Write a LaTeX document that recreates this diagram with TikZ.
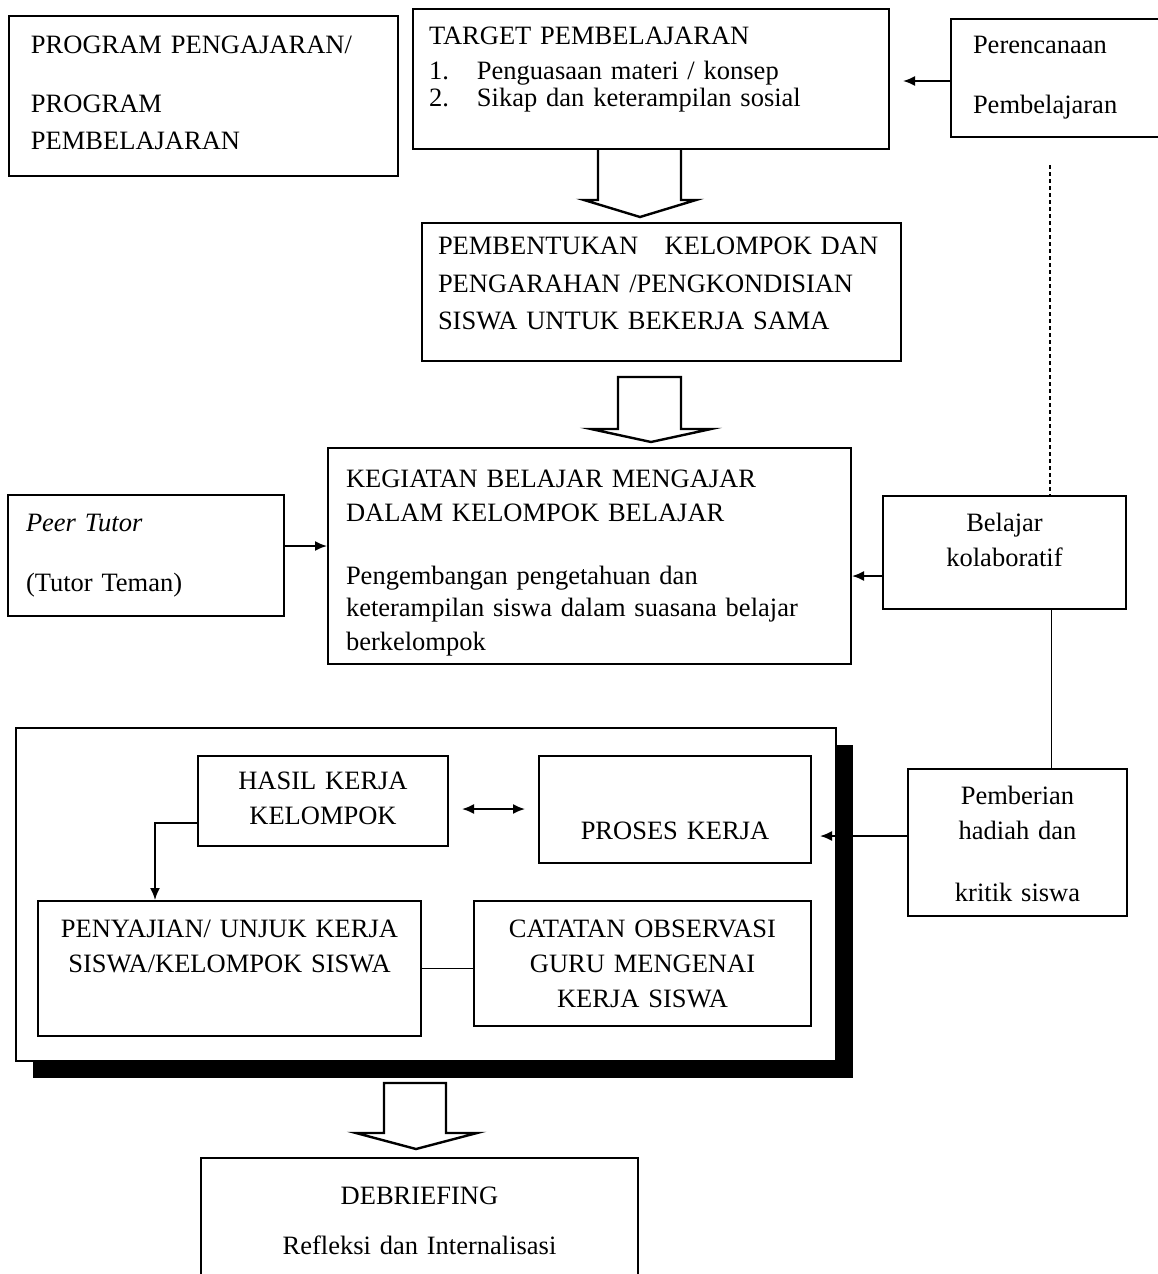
\documentclass[tikz,border=0pt]{standalone}
\usepackage{fontspec}
\setmainfont{Liberation Serif}
\usepackage{tikz}
\usetikzlibrary{positioning,arrows.meta,calc,shadows}

\begin{document}
\begin{tikzpicture}[
  x=0.5pt,y=-0.5pt,
  bx/.style={draw,line width=1pt,anchor=north west,inner ysep=0pt,align=left,
             font=\fontsize{13.25}{17}\selectfont},
  cbx/.style={bx,align=center,inner xsep=0pt},
  a/.style={-{Latex[length=6pt,width=5pt]},line width=0.9pt},
  fat/.style={line width=1.2pt,fill=white,line join=miter},
  dots/.style={line width=0.8pt,dash pattern=on 2pt off 1.5pt}]
\useasboundingbox (0,0) rectangle (1157,1274);
% top row
\node[bx,inner xsep=11pt,text width=172.5pt,text height=19pt,text depth=61pt] (prog) at (8,15)
  {PROGRAM PENGAJARAN/\\[12pt] PROGRAM\\[1.5pt] PEMBELAJARAN};
\node[bx,inner xsep=8pt,text width=222pt,text height=17.5pt,text depth=52.5pt] (target) at (412,8)
  {TARGET PEMBELAJARAN\\[0.5pt]
   \makebox[24pt][l]{1.}Penguasaan materi / konsep\\[-3pt]
   \makebox[24pt][l]{2.}Sikap dan keterampilan sosial};
\node[bx,inner xsep=11pt,text width=100pt,text height=17.5pt,text depth=41.5pt] (plan) at (950,18)
  {Perencanaan\\[13pt] Pembelajaran};
% middle
\node[bx,inner xsep=8pt,text width=223.5pt,text height=15.5pt,text depth=53.5pt] (group) at (421,222)
  {PEMBENTUKAN\ \ \ KELOMPOK DAN\\[2pt] PENGARAHAN /PENGKONDISIAN\\[1.5pt] SISWA UNTUK BEKERJA SAMA};
\node[bx,inner xsep=9pt,text width=243.5pt,text height=19.5pt,text depth=88.5pt] (kbm) at (327,447)
  {KEGIATAN BELAJAR MENGAJAR\\ DALAM KELOMPOK BELAJAR\\[14.5pt]
   Pengembangan pengetahuan dan\\[-1pt] keterampilan siswa dalam suasana belajar\\ berkelompok};
\node[bx,inner xsep=9pt,text width=120pt,text height=18pt,text depth=42.5pt] (peer) at (7,494)
  {\textit{Peer Tutor}\\[13pt] (Tutor Teman)};
\node[cbx,text width=121.5pt,text height=17.5pt,text depth=39pt] (belajar) at (882,495)
  {Belajar\\[0.5pt] kolaboratif};
% work block
\node[bx,fill=white,inner xsep=0pt,text width=410pt,text height=166.5pt,text depth=0pt,
      general shadow={fill=black,shadow xshift=8.5pt,shadow yshift=-8.5pt}] (outer) at (15,727) {};
\node[cbx,text width=125pt,text height=16.5pt,text depth=28.5pt] (hasil) at (197,755)
  {HASIL KERJA\\[0.5pt] KELOMPOK};
\node[cbx,text width=136pt,text height=41.5pt,text depth=12pt] (proses) at (538,755) {PROSES KERJA};
\node[cbx,text width=191.5pt,text height=18pt,text depth=49.5pt] (peny) at (37,900)
  {PENYAJIAN/ UNJUK KERJA\\[0.5pt] SISWA/KELOMPOK SISWA};
\node[cbx,text width=168.5pt,text height=18pt,text depth=44.5pt] (catat) at (473,900)
  {CATATAN OBSERVASI\\[0.5pt] GURU MENGENAI\\[0.5pt] KERJA SISWA};
\node[cbx,text width=109.5pt,text height=17.5pt,text depth=56pt] (reward) at (907,768)
  {Pemberian\\[0.5pt] hadiah dan\\[14pt] kritik siswa};
\node[cbx,text width=218.5pt,text height=23pt,text depth=48.5pt] (debrief) at (200,1157)
  {DEBRIEFING\\[8pt] Refleksi dan Internalisasi};
% block arrows
\draw[fat] ($(target.south)+(-53,0)$) -- ++(0,50) -- ++(-14,0) -- ++(56,17) -- ++(56,-17)
  -- ++(-15,0) -- ++(0,-50);
\draw[fat] ($(group.south)+(-43.5,15)$) -- ++(0,52) -- ++(-27,0) -- ++(60,13) -- ++(60,-13)
  -- ++(-30,0) -- ++(0,-52) -- cycle;
\draw[fat] ($(debrief.north)+(-35.5,-74)$) -- ++(0,50) -- ++(-28,0) -- ++(60,16) -- ++(61,-16)
  -- ++(-31,0) -- ++(0,-50) -- cycle;
% connectors
\coordinate (pa) at ($(plan.west)+(0,3)$);
\draw[a,shorten >=6.5pt] (pa) -- (pa -| target.east);
\coordinate (pt) at ($(peer.east)+(0,-9.5)$);
\draw[a] (pt) -- (pt -| kbm.west);
\coordinate (bl) at ($(belajar.west)+(0,23.5)$);
\draw[a] (bl) -- (bl -| kbm.east);
\coordinate (dt) at ($(plan.south west)+(100,27)$);
\draw[dots] (dt) -- (dt |- belajar.north);
\coordinate (bk) at ($(belajar.south)+(47,0)$);
\draw[line width=0.9pt] (bk) -- (bk |- reward.north);
\coordinate (rw) at ($(reward.west)+(0,-6.5)$);
\draw[a,shorten >=-8.5pt] (rw) -- (rw -| outer.east);
\coordinate (hk) at ($(hasil.east)+(0,8)$);
\draw[{Latex[length=6pt,width=5pt]}-{Latex[length=6pt,width=5pt]},line width=0.9pt,
  shorten <=6.5pt,shorten >=6.5pt] (hk) -- (hk -| proses.west);
\draw[a] ($(hasil.west)+(0,22)$) -| ($(peny.north west)+(118,0)$);
\draw[line width=0.9pt] (peny.east) -- (peny.east -| catat.west);
\end{tikzpicture}
\end{document}
